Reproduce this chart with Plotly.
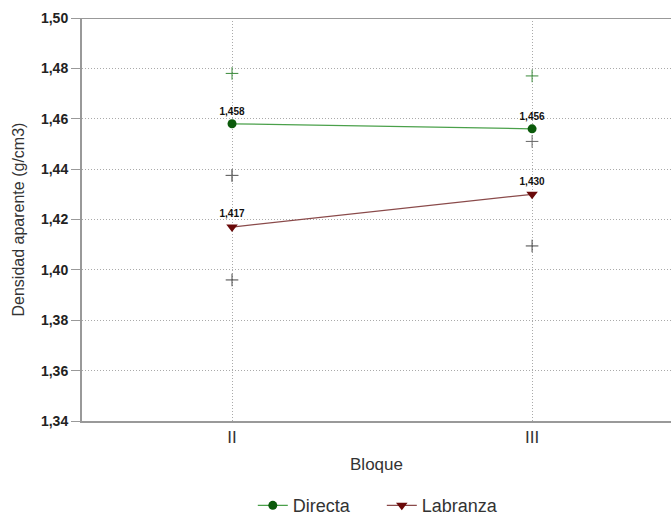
import plotly.graph_objects as go

categories = ["II", "III"]
directa = [1.458, 1.456]
labranza = [1.417, 1.430]
directa_upper = [1.478, 1.477]
directa_lower = [1.4375, None]
labranza_upper = [1.4375, 1.451]
labranza_lower = [1.396, 1.4095]
y_ticks = [1.34, 1.36, 1.38, 1.40, 1.42, 1.44, 1.46, 1.48, 1.50]

fig = go.Figure()

# CI crosses
fig.add_trace(go.Scatter(x=categories, y=directa_upper, mode="markers",
                         marker=dict(symbol="cross-thin", size=9, line=dict(color="#3a8a3a", width=1)),
                         showlegend=False, hoverinfo="skip"))
fig.add_trace(go.Scatter(x=categories, y=directa_lower, mode="markers",
                         marker=dict(symbol="cross-thin", size=9, line=dict(color="#777777", width=1)),
                         showlegend=False, hoverinfo="skip"))
fig.add_trace(go.Scatter(x=categories, y=labranza_upper, mode="markers",
                         marker=dict(symbol="cross-thin", size=9, line=dict(color="#666666", width=1)),
                         showlegend=False, hoverinfo="skip"))
fig.add_trace(go.Scatter(x=categories, y=labranza_lower, mode="markers",
                         marker=dict(symbol="cross-thin", size=9, line=dict(color="#444444", width=1)),
                         showlegend=False, hoverinfo="skip"))

lbl_font = dict(size=10, color="#111111", family="Liberation Sans", weight="bold")
fig.add_trace(go.Scatter(x=categories, y=directa, mode="lines+markers+text", name="Directa",
                         line=dict(color="#4aa04a", width=1.2),
                         marker=dict(symbol="circle", size=9, color="#0b5a0b"),
                         text=[f"{v:.3f}".replace(".", ",") for v in directa],
                         textposition="top center", textfont=lbl_font))
fig.add_trace(go.Scatter(x=categories, y=labranza, mode="lines+markers+text", name="Labranza",
                         line=dict(color="#8a4a4a", width=1.2),
                         marker=dict(symbol="triangle-down", size=10, color="#6a0a0a"),
                         text=[f"{v:.3f}".replace(".", ",") for v in labranza],
                         textposition="top center", textfont=lbl_font))

fig.update_layout(
    width=671, height=516,
    margin=dict(l=82, r=0, t=18, b=95, autoexpand=False),
    paper_bgcolor="white", plot_bgcolor="white",
    separators=",.",
    font=dict(family="Liberation Sans", color="#222222"),
    legend=dict(orientation="h", x=0.509, xanchor="center", y=-0.21, yanchor="middle",
                entrywidth=84, entrywidthmode="pixels",
                font=dict(size=18, color="#333333")),
    xaxis=dict(type="category", range=[-0.5, 1.463], automargin=False,
               showgrid=True, gridcolor="#aaaaaa", griddash="1px,2px", gridwidth=1,
               showline=True, linecolor="#999999", linewidth=2,
               ticks="", tickfont=dict(size=17, color="#333333"),
               title=dict(text="Bloque", font=dict(size=17, color="#333333"), standoff=12),
               zeroline=False),
    yaxis=dict(range=[1.34, 1.50], tickvals=y_ticks, automargin=False,
               ticktext=[f"{v:.2f}".replace(".", ",") for v in y_ticks],
               showgrid=True, gridcolor="#aaaaaa", griddash="1px,2px", gridwidth=1,
               showline=True, linecolor="#999999", linewidth=2,
               ticks="outside", ticklen=9, tickcolor="#999999",
               tickfont=dict(size=14, color="#222222", family="Liberation Sans", weight="bold"),
               zeroline=False),
    annotations=[dict(text="Densidad aparente (g/cm3)", xref="paper", yref="paper",
                      x=(18 - 82) / 589, y=0.5, xanchor="center", yanchor="middle",
                      textangle=-90, showarrow=False,
                      font=dict(size=16, color="#333333"))],
)
fig.add_shape(type="line", xref="paper", yref="y", x0=0, x1=1, y0=1.50, y1=1.50,
              line=dict(color="#999999", width=2))

fig.write_html("out.html")
